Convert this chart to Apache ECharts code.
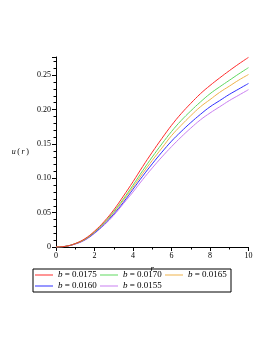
<!DOCTYPE html>
<html>
<head>
<meta charset="utf-8">
<script src="https://cdn.jsdelivr.net/npm/echarts@6/dist/echarts.min.js"></script>
<style>
html,body{margin:0;padding:0;background:#fff;}
#chart{width:273px;height:353px;}
</style>
</head>
<body>
<div id="chart"></div>
<script>
var rValues = [0,0.5,1,1.5,2,2.5,3,3.5,4,4.5,5,5.5,6,6.5,7,7.5,8,8.5,9,9.5,10];
var seriesNames = ['0.0175','0.0170','0.0165','0.0160','0.0155'];
var u0175 = [0,0.001,0.005,0.012,0.023,0.037,0.054,0.074,0.095,0.117,0.138,0.158,0.177,0.194,0.209,0.223,0.235,0.246,0.2565,0.2665,0.276];
var u0170 = [0,0.001,0.005,0.0115,0.022,0.0355,0.0515,0.070,0.090,0.111,0.131,0.150,0.168,0.184,0.198,0.211,0.223,0.233,0.2425,0.252,0.261];
var u0165 = [0,0.001,0.0047,0.011,0.0215,0.0345,0.050,0.068,0.087,0.107,0.126,0.144,0.162,0.177,0.191,0.204,0.2145,0.225,0.234,0.243,0.251];
var u0160 = [0,0.001,0.0045,0.0105,0.0205,0.033,0.048,0.065,0.084,0.103,0.121,0.138,0.154,0.168,0.181,0.193,0.204,0.213,0.222,0.230,0.238];
var u0155 = [0,0.001,0.0043,0.010,0.0198,0.032,0.046,0.063,0.080,0.098,0.115,0.131,0.146,0.160,0.173,0.185,0.195,0.204,0.213,0.221,0.229];
var xTicks = [0,2,4,6,8,10];
var yTicks = [0,0.05,0.10,0.15,0.20,0.25];

var allU = [u0175,u0170,u0165,u0160,u0155];
var colors = ['#ff2b2b','#5fd85f','#eeb24a','#2f2fff','#c97ff0'];
var serif = '"Liberation Serif","DejaVu Serif",serif';

function pairs(ys){ return rValues.map(function(r,i){ return [r, ys[i]]; }); }

var series = allU.map(function(ys, k){
  return {
    name: seriesNames[k],
    type: 'line',
    data: pairs(ys),
    smooth: 0.4,
    symbol: 'none',
    lineStyle: {width: 1, color: colors[k]},
    itemStyle: {color: colors[k]},
    z: 10 - k
  };
});

var chart = echarts.init(document.getElementById('chart'), null, {renderer:'canvas'});
chart.setOption({
  animation: false,
  backgroundColor: '#fff',
  grid: {left: 56, right: 24.5, top: 57, bottom: 106, containLabel: false},
  xAxis: {
    type: 'value', min: xTicks[0], max: xTicks[xTicks.length-1], interval: 2,
    name: 'r', nameLocation: 'middle', nameGap: 17, nameMoveOverlap: false,
    nameTextStyle: {fontFamily: serif, fontStyle: 'italic', fontSize: 9, color: '#000'},
    axisLine: {lineStyle: {color: '#000', width: 1}},
    axisTick: {show: true, length: 4, lineStyle: {color: '#000'}},
    minorTick: {show: true, splitNumber: 2, length: 2.5, lineStyle: {color: '#000'}},
    splitLine: {show: false},
    axisLabel: {fontFamily: serif, fontSize: 8, color: '#000', margin: 5}
  },
  yAxis: {
    type: 'value', min: yTicks[0], max: 0.2765, interval: 0.05,
    name: '{i|u}\u2009(\u2009{i|r}\u2009)', nameLocation: 'middle', nameGap: 27, nameRotate: 0, nameMoveOverlap: false,
    nameTextStyle: {fontFamily: serif, fontSize: 8, color: '#000',
      rich: {i: {fontFamily: serif, fontStyle: 'italic', fontSize: 8, color: '#000'}}},
    axisLine: {show: true, lineStyle: {color: '#000', width: 1}},
    axisTick: {show: true, length: 4, lineStyle: {color: '#000'}},
    minorTick: {show: true, splitNumber: 5, length: 2.5, lineStyle: {color: '#000'}},
    splitLine: {show: false},
    axisLabel: {fontFamily: serif, fontSize: 8, color: '#000', margin: 5, showMaxLabel: false,
      formatter: function(v){ return v === 0 ? '0' : v.toFixed(2); }}
  },
  legend: {
    left: 33, top: 269, width: 212,
    orient: 'horizontal',
    padding: [1, 2, 1, 2],
    itemGap: 1,
    itemWidth: 18, itemHeight: 9,
    borderColor: '#000', borderWidth: 1,
    icon: 'path://M0,5 L18,5 L18,6 L0,6 Z',
    data: seriesNames,
    formatter: function(n){ return '{i|b} = ' + n; },
    textStyle: {fontFamily: serif, fontSize: 9, color: '#000', width: 41, lineHeight: 10,
      rich: {i: {fontFamily: serif, fontStyle: 'italic', fontSize: 9, color: '#000'}}}
  },
  series: series
});
</script>
</body>
</html>
